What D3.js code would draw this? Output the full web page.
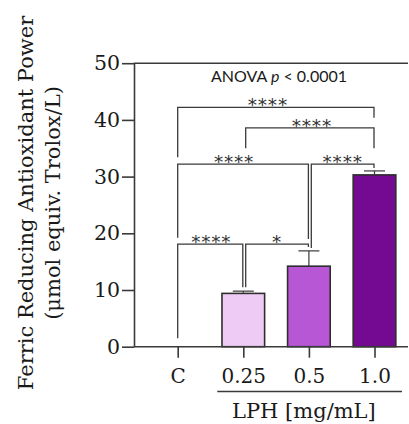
<!DOCTYPE html>
<html><head><meta charset="utf-8">
<script src="https://cdn.jsdelivr.net/npm/d3@7"></script>
<style>html,body{margin:0;padding:0;background:#fff;}</style>
</head><body>
<script>
// ---- data ----
const categories = ["C", "0.25", "0.5", "1.0"];
const means = [0, 9.4, 14.2, 30.3];
const errors = [0, 0.4, 2.7, 0.7];
const yTicks = [0, 10, 20, 30, 40, 50];
const bracketFrom = ["C", "0.25", "C", "0.5", "C", "0.25"];
const bracketTo = ["1.0", "1.0", "0.5", "1.0", "0.25", "0.5"];
const bracketLevel = [42.2, 38.6, 32.2, 32.2, 18.1, 18.1];
const bracketFromEnd = [33.4, 35.0, 19.2, 17.4, 1.5, 10.5];
const bracketToEnd = [40.4, 35.0, 19.0, 31.5, 10.5, 17.6];
const bracketLabel = ["****", "****", "****", "****", "****", "*"];
const anovaText = ["ANOVA ", "p", " < 0.0001"];
const yLabel = ["Ferric Reducing Antioxidant Power", "(\u03bcmol equiv. Trolox/L)"];
const groupLabel = "LPH [mg/mL]";

// ---- style ----
const barColors = ["#ffffff", "#eecbf5", "#b857d6", "#740a92"];
const ink = "#3a3a3a";
const serif = "'DejaVu Serif', serif";
const W = 409, H = 424;

const svg = d3.select("body").append("svg").attr("width", W).attr("height", H);

const y = d3.scaleLinear().domain([0, 50]).range([346.7, 63.2]);
const x = d3.scalePoint().domain(categories).range([177.7, 374.5]);
const step = x.step();
const barW = step * 0.65;
const axisX = 134;

// y axis
const ya = svg.append("g").attr("transform", `translate(${axisX},0)`)
  .call(d3.axisLeft(y).tickValues(yTicks).tickSize(12).tickSizeOuter(0).tickPadding(2));
ya.select(".domain").attr("stroke", ink).attr("stroke-width", 1.6);
ya.selectAll(".tick line").attr("stroke", ink).attr("stroke-width", 1.6);
ya.selectAll(".tick text").attr("font-family", serif).attr("font-size", 20.5).attr("fill", "#1a1a1a");

// top line at 50
svg.append("line").attr("x1", axisX).attr("x2", 408).attr("y1", y(50)).attr("y2", y(50))
  .attr("stroke", ink).attr("stroke-width", 1.6);

// bars
svg.append("g").selectAll("rect").data(categories.filter((c, i) => means[i] > 0))
  .join("rect")
  .attr("x", c => x(c) - barW / 2)
  .attr("y", c => y(means[categories.indexOf(c)]))
  .attr("width", barW)
  .attr("height", c => y(0) - y(means[categories.indexOf(c)]))
  .attr("fill", c => barColors[categories.indexOf(c)])
  .attr("stroke", "#2e2e2e").attr("stroke-width", 1.6);

// error bars (upward)
const eg = svg.append("g");
categories.forEach((c, i) => {
  if (errors[i] <= 0) return;
  eg.append("line").attr("x1", x(c)).attr("x2", x(c))
    .attr("y1", y(means[i])).attr("y2", y(means[i] + errors[i]))
    .attr("stroke", ink).attr("stroke-width", 1.2);
  eg.append("line").attr("x1", x(c) - 10.5).attr("x2", x(c) + 10.5)
    .attr("y1", y(means[i] + errors[i])).attr("y2", y(means[i] + errors[i]))
    .attr("stroke", ink).attr("stroke-width", 1.2);
});

// x axis
svg.append("line").attr("x1", axisX).attr("x2", 408).attr("y1", y(0)).attr("y2", y(0))
  .attr("stroke", ink).attr("stroke-width", 1.6);
const xa = svg.append("g").attr("transform", `translate(0,${y(0)})`)
  .call(d3.axisBottom(x).tickSize(11).tickPadding(11));
xa.select(".domain").remove();
xa.selectAll(".tick line").attr("stroke", ink).attr("stroke-width", 1.6);
xa.selectAll(".tick text").attr("font-family", serif).attr("font-size", 20).attr("fill", "#1a1a1a");

// group line + label
svg.append("line").attr("x1", x("0.25") - 26).attr("x2", x("1.0") + 27.5)
  .attr("y1", 391.5).attr("y2", 391.5).attr("stroke", ink).attr("stroke-width", 1.4);
svg.append("text").attr("x", (x("0.25") + x("1.0")) / 2 - 5).attr("y", 418)
  .attr("text-anchor", "middle").attr("font-family", serif).attr("font-size", 21)
  .attr("fill", "#1a1a1a").text(groupLabel);

// brackets
const bg = svg.append("g").attr("fill", "none").attr("stroke", ink).attr("stroke-width", 1.3);
const labelShift = [-8, 2, -9, 0, 1, 0];
bracketFrom.forEach((a, i) => {
  const b = bracketTo[i];
  const xa0 = x(a) + (a === "C" ? 0 : 2.4);
  const xb0 = x(b) - 0.5;
  const yl = y(bracketLevel[i]);
  bg.append("path").attr("d",
    `M${xa0},${y(bracketFromEnd[i])}V${yl}H${xb0}V${y(bracketToEnd[i])}`);
  svg.append("text").attr("x", (xa0 + xb0) / 2 + labelShift[i]).attr("y", yl + 4)
    .attr("text-anchor", "middle").attr("font-family", "'DejaVu Sans', sans-serif")
    .attr("font-size", 18.5).attr("letter-spacing", 0.8).attr("fill", "#333")
    .text(bracketLabel[i]);
});

// ANOVA text
const at = svg.append("text").attr("x", 279).attr("y", 82).attr("text-anchor", "middle")
  .attr("font-family", "Lato, sans-serif").attr("font-size", 16).attr("fill", "#1a1a1a");
at.append("tspan").text(anovaText[0]);
at.append("tspan").attr("font-style", "italic").text(anovaText[1]);
at.append("tspan").text(anovaText[2]);

// y label
yLabel.forEach((t, i) => {
  svg.append("text").attr("transform", `translate(${33 + i * 27},203) rotate(-90)`)
    .attr("text-anchor", "middle").attr("font-family", serif).attr("font-size", 21)
    .attr("fill", "#1a1a1a").text(t);
});
</script>
</body></html>
